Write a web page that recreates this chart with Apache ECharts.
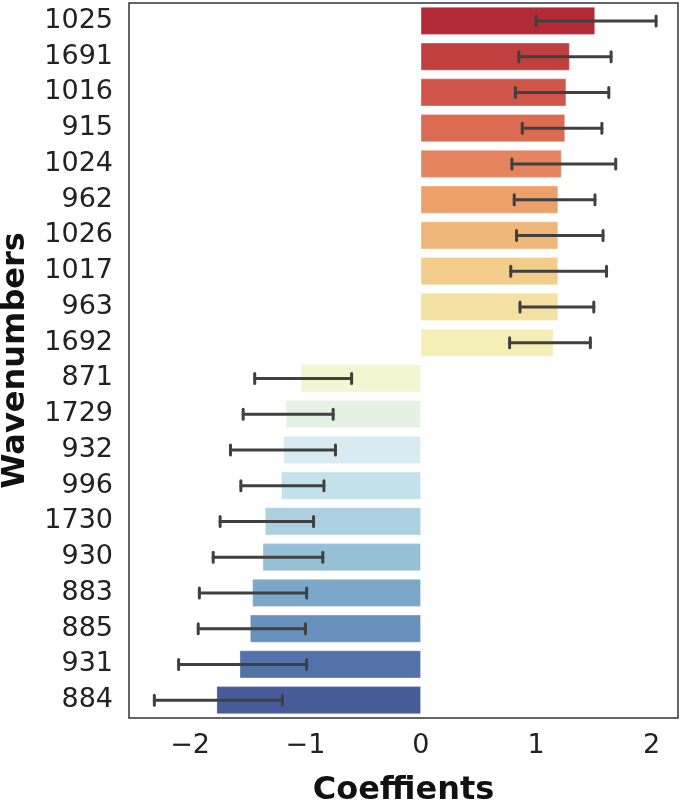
<!DOCTYPE html>
<html><head><meta charset="utf-8">
<script src="https://cdn.jsdelivr.net/npm/echarts@6/dist/echarts.min.js"></script>
<style>html,body{margin:0;padding:0;background:#fff}#c{width:685px;height:801px}</style>
</head><body><div id="c"></div>
<script>
const categories = ['1025','1691','1016','915','1024','962','1026','1017','963','1692','871','1729','932','996','1730','930','883','885','931','884'];
const coefficients = [1.51,1.29,1.26,1.25,1.22,1.19,1.19,1.19,1.19,1.15,-1.04,-1.17,-1.19,-1.21,-1.35,-1.37,-1.46,-1.48,-1.57,-1.77];
const errLow  = [1.00,0.85,0.82,0.88,0.79,0.81,0.83,0.78,0.86,0.77,-1.44,-1.54,-1.65,-1.56,-1.74,-1.80,-1.92,-1.93,-2.10,-2.31];
const errHigh = [2.04,1.65,1.63,1.57,1.69,1.51,1.58,1.61,1.50,1.47,-0.60,-0.76,-0.74,-0.84,-0.93,-0.85,-0.99,-1.00,-0.99,-1.20];
const xTicks = [-2,-1,0,1,2];
const palette = ['#b22a36','#c1403f','#cf5549','#db6b51','#e5845f','#eca06a','#efb779','#f2cd8c','#f4e1a4','#f4efb7','#f3f6d0','#e5f2e3','#d8ebf0','#c4e2eb','#abd0e0','#95c0d6','#7ba8c8','#6790bd','#5372aa','#475a9a'];

const chart = echarts.init(document.getElementById('c'), null, {renderer:'canvas'});
const font = 'DejaVu Sans';
chart.setOption({
  animation:false,
  grid:{left:129,right:7,top:3,bottom:83,show:true,borderColor:'#333',borderWidth:1.5,backgroundColor:'transparent',outerBoundsMode:'none',containLabel:false},
  xAxis:{type:'value',min:-2.53,max:2.23,
    splitLine:{show:false},axisLine:{show:false},axisTick:{show:false},
    axisLabel:{customValues:xTicks,fontFamily:font,fontSize:27,color:'#222',margin:14,
      formatter:v=>String(v).replace('-','\u2212')},
    name:'Coeffients',nameLocation:'middle',nameGap:57,
    nameTextStyle:{fontFamily:font,fontSize:32,fontWeight:'bold',color:'#111'}},
  yAxis:{type:'category',data:categories,inverse:true,
    axisLine:{show:false},axisTick:{show:false},splitLine:{show:false},
    axisLabel:{fontFamily:font,fontSize:27,color:'#222',margin:16},
    name:'Wavenumbers',nameLocation:'middle',nameGap:97,
    nameTextStyle:{fontFamily:font,fontSize:32,fontWeight:'bold',color:'#111'}},
  series:[
    {type:'bar',barWidth:'77%',
     data:coefficients.map((v,i)=>({value:v,itemStyle:{color:palette[i],borderColor:'rgba(255,255,255,0.6)',borderWidth:0.5}}))},
    {type:'custom',
     data:categories.map((c,i)=>[i,errLow[i],errHigh[i]]),
     renderItem:function(params,api){
       const p1 = api.coord([api.value(1),api.value(0)]);
       const p2 = api.coord([api.value(2),api.value(0)]);
       const h = 5;
       const st = {stroke:'#404040',lineWidth:3,lineCap:'round'};
       return {type:'group',children:[
         {type:'line',shape:{x1:p1[0],y1:p1[1],x2:p2[0],y2:p2[1]},style:st},
         {type:'line',shape:{x1:p1[0],y1:p1[1]-h,x2:p1[0],y2:p1[1]+h},style:st},
         {type:'line',shape:{x1:p2[0],y1:p2[1]-h,x2:p2[0],y2:p2[1]+h},style:st}
       ]};
     },z:5}
  ]
});
</script></body></html>
